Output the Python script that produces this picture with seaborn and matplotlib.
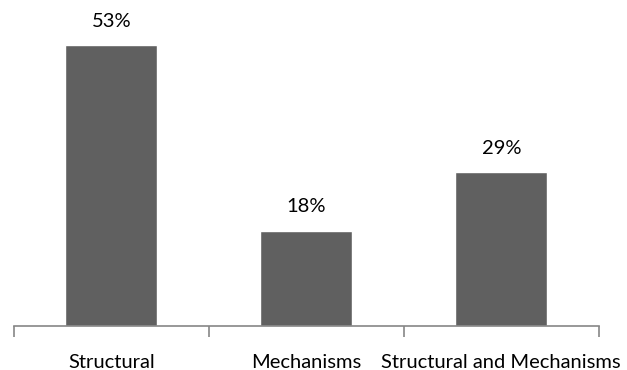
import matplotlib
matplotlib.use("Agg")
import matplotlib.pyplot as plt
import seaborn as sns
import pandas as pd

categories = ["Structural", "Mechanisms", "Structural and Mechanisms"]
shares = [53, 18, 29]

sns.set_theme(style="white")
plt.rcParams["font.family"] = ["Lato", "DejaVu Sans"]

df = pd.DataFrame({"category": categories, "share": shares})

fig = plt.figure(figsize=(6.27, 3.70), dpi=100)
ax = fig.add_axes([0.022, 0.119, 0.933, 0.859])

sns.barplot(data=df, x="category", y="share", color="#606060",
            saturation=1, width=0.47, ax=ax)

for i, v in enumerate(shares):
    ax.text(i, v + 2.9, f"{v}%", ha="center", va="bottom",
            fontsize=14.5, color="#000000")

ax.set_xlim(-0.5, len(categories) - 0.5)
ax.set_ylim(0, 60)
ax.set_xlabel("")
ax.set_ylabel("")
ax.set_yticks([])

# category boundary ticks along the baseline
ax.set_xticks([i - 0.5 for i in range(len(categories) + 1)], minor=True)
ax.tick_params(axis="x", which="minor", length=8, width=1.2,
               color="#868686", direction="out", bottom=True)
ax.tick_params(axis="x", which="major", length=0, pad=20,
               labelsize=14.5, labelcolor="#000000")

for side in ["top", "right", "left"]:
    ax.spines[side].set_visible(False)
ax.spines["bottom"].set_color("#868686")
ax.spines["bottom"].set_linewidth(1.2)

fig.savefig("out.png", dpi=100)
